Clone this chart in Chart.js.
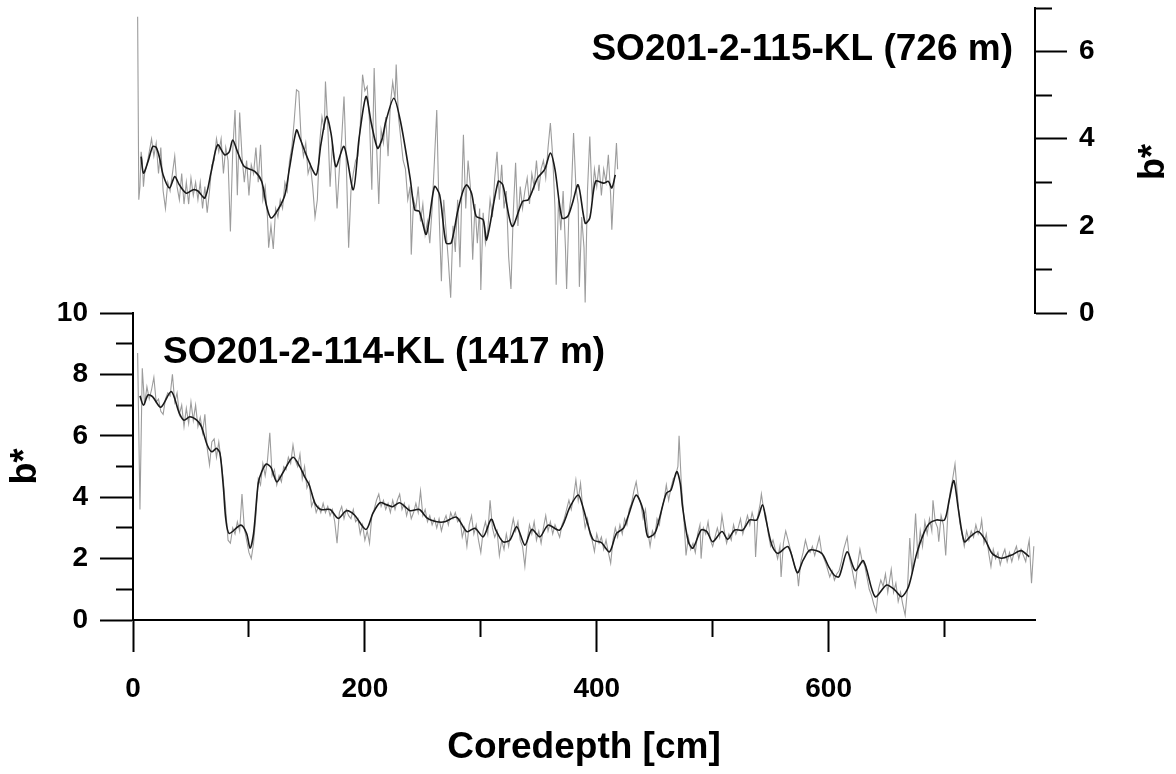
<!DOCTYPE html>
<html>
<head>
<meta charset="utf-8">
<script src="https://cdn.jsdelivr.net/npm/chart.js@4.4.1/dist/chart.umd.min.js"></script>
<style>
html,body{margin:0;padding:0;background:#fff;}
#wrap{position:relative;width:1176px;height:774px;overflow:hidden;background:#fff;}
#wrap canvas{position:absolute;left:0;top:0;}
</style>
</head>
<body>
<div id="wrap">
<canvas id="cBottom" width="1176" height="774"></canvas>
<canvas id="cTop" width="1176" height="774"></canvas>
</div>
<script>
// ---------- text ----------
const panelLabel114 = 'SO201-2-114-KL (1417 m)';
const panelLabel115 = 'SO201-2-115-KL (726 m)';
const xTitle = 'Coredepth [cm]';
const yTitle = 'b*';

// ---------- ticks ----------
const XMAX = 778;
const xTickValues = [0, 100, 200, 300, 400, 500, 600, 700];
const xTickLabels = ['0', '', '200', '', '400', '', '600', ''];
const yTickValues114 = [0, 1, 2, 3, 4, 5, 6, 7, 8, 9, 10];
const yTickLabels114 = ['0', '', '2', '', '4', '', '6', '', '8', '', '10'];
const yTickValues115 = [0, 1, 2, 3, 4, 5, 6, 7];
const yTickLabels115 = ['0', '', '2', '', '4', '', '6', ''];

// ---------- SO201-2-114-KL : smoothed b* ----------
const depthSmooth114 = [
  6, 9, 13, 17, 24, 33, 40, 44, 49, 55,
  59, 64, 68, 72, 75, 78, 80, 83, 93, 98,
  101, 104, 108, 111, 115, 119, 124, 129, 138, 144,
  148, 152, 157, 162, 170, 177, 184, 191, 201, 207,
  213, 219, 224, 230, 239, 247, 254, 262, 269, 279,
  288, 295, 302, 309, 313, 319, 325, 331, 338, 344,
  351, 358, 368, 377, 384, 388, 392, 397, 404, 411,
  417, 423, 427, 434, 440, 444, 450, 454, 460, 464,
  469, 472, 474, 479, 483, 490, 495, 500, 508, 513,
  519, 526, 532, 538, 543, 546, 551, 556, 565, 573,
  578, 584, 594, 600, 605, 609, 616, 623, 630, 640,
  650, 657, 663, 669, 676, 682, 687, 693, 700, 704,
  708, 712, 717, 722, 729, 735, 741, 749, 758, 766,
  773
];
const bSmooth114 = [
  7.30, 7.00, 7.33, 7.27, 6.93, 7.44, 6.73, 6.51, 6.62, 6.51,
  6.30, 5.70, 5.48, 5.59, 5.43, 4.30, 3.30, 2.82, 3.09, 2.82,
  2.34, 2.82, 4.45, 4.83, 5.08, 4.97, 4.50, 4.78, 5.30, 4.99,
  4.67, 4.40, 3.80, 3.60, 3.60, 3.31, 3.56, 3.42, 2.95, 3.48,
  3.82, 3.75, 3.69, 3.82, 3.56, 3.60, 3.31, 3.20, 3.20, 3.35,
  2.88, 2.99, 2.71, 3.28, 2.93, 2.55, 2.60, 3.04, 2.44, 2.95,
  2.71, 3.09, 2.93, 3.69, 4.07, 3.69, 3.15, 2.61, 2.52, 2.22,
  2.82, 2.99, 3.37, 4.07, 3.58, 2.71, 2.82, 3.30, 4.13, 4.23,
  4.83, 4.45, 3.69, 2.55, 2.34, 2.93, 2.88, 2.55, 2.88, 2.63,
  2.93, 2.93, 3.26, 3.26, 3.75, 3.26, 2.44, 2.17, 2.39, 1.54,
  1.95, 2.28, 2.17, 1.74, 1.45, 1.41, 2.22, 1.61, 1.93, 0.76,
  1.14, 0.98, 0.76, 1.09, 2.17, 2.82, 3.15, 3.26, 3.26, 3.91,
  4.54, 3.58, 2.55, 2.71, 2.88, 2.61, 2.17, 2.01, 2.12, 2.26,
  2.06
];

// ---------- SO201-2-114-KL : raw b* ----------
const depthRaw114 = [
  4, 6, 8, 10, 12, 14, 16, 18, 20, 22,
  24, 26, 28, 30, 32, 34, 36, 38, 40, 42,
  44, 46, 48, 50, 52, 54, 56, 58, 60, 62,
  64, 66, 68, 70, 72, 74, 76, 78, 80, 82,
  84, 86, 88, 90, 92, 94, 96, 98, 100, 102,
  104, 106, 108, 110, 112, 114, 116, 118, 120, 122,
  124, 126, 128, 130, 132, 134, 136, 138, 140, 142,
  144, 146, 148, 150, 152, 154, 156, 158, 160, 162,
  164, 166, 168, 170, 172, 174, 176, 178, 180, 182,
  184, 186, 188, 190, 192, 194, 196, 198, 200, 202,
  204, 206, 208, 210, 212, 214, 216, 218, 220, 222,
  224, 226, 228, 230, 232, 234, 236, 238, 240, 242,
  244, 246, 248, 250, 252, 254, 256, 258, 260, 262,
  264, 266, 268, 270, 272, 274, 276, 278, 280, 282,
  284, 286, 288, 290, 292, 294, 296, 298, 300, 302,
  304, 306, 308, 310, 312, 314, 316, 318, 320, 322,
  324, 326, 328, 330, 332, 334, 336, 338, 340, 342,
  344, 346, 348, 350, 352, 354, 356, 358, 360, 362,
  364, 366, 368, 370, 372, 374, 376, 378, 380, 382,
  384, 386, 388, 390, 392, 394, 396, 398, 400, 402,
  404, 406, 408, 410, 412, 414, 416, 418, 420, 422,
  424, 426, 428, 430, 432, 434, 436, 438, 440, 442,
  444, 446, 448, 450, 452, 454, 456, 458, 460, 462,
  464, 466, 468, 470, 471, 473, 475, 477, 479, 481,
  483, 485, 487, 489, 490, 492, 494, 496, 498, 500,
  502, 504, 506, 508, 510, 512, 514, 516, 518, 520,
  522, 524, 526, 528, 530, 532, 534, 536, 537, 539,
  541, 542, 544, 546, 548, 550, 552, 554, 556, 558,
  559, 561, 563, 565, 567, 569, 571, 573, 574, 576,
  578, 580, 582, 584, 586, 588, 590, 592, 594, 596,
  598, 601, 603, 605, 607, 609, 611, 613, 616, 618,
  620, 623, 625, 627, 629, 631, 633, 635, 637, 639,
  641, 643, 645, 647, 649, 651, 654, 656, 658, 660,
  662, 664, 666, 668, 670, 672, 673, 675, 677, 679,
  681, 683, 685, 687, 689, 690, 692, 694, 695, 697,
  699, 701, 703, 705, 707, 709, 711, 713, 715, 717,
  719, 721, 723, 725, 727, 729, 731, 732, 734, 736,
  738, 740, 742, 744, 746, 748, 750, 752, 754, 756,
  758, 760, 762, 764, 766, 768, 770, 772, 773, 775,
  777
];
const bRaw114 = [
  8.7, 3.6, 8.2, 7.0, 7.6, 7.2, 7.5, 7.9, 7.1, 7.2,
  6.8, 6.7, 7.2, 7.4, 7.3, 8.0, 7.1, 7.4, 6.7, 7.0,
  6.3, 6.9, 6.4, 7.1, 6.5, 7.0, 6.3, 6.6, 6.1, 6.7,
  5.6, 5.05, 5.8, 5.9, 5.3, 5.8, 5.2, 4.5, 3.6, 2.6,
  2.5, 3.0, 2.8, 3.2, 2.9, 4.1, 3.0, 2.6, 2.2, 2.0,
  2.5, 3.4, 4.6, 4.4, 5.1, 4.7, 5.2, 6.1, 4.7, 4.9,
  4.4, 4.7, 4.5, 5.0, 4.9, 5.3, 5.1, 5.7, 5.2, 5.0,
  5.4, 4.6, 5.0, 4.3, 4.5, 3.7, 3.9, 3.5, 3.7, 3.5,
  3.8, 3.5, 3.7, 3.4, 3.6, 3.2, 2.5, 3.5, 3.7, 3.3,
  3.6, 3.4, 3.3, 3.6, 3.2, 3.3, 2.8, 3.1, 2.6, 2.9,
  2.5, 3.4, 3.6, 3.9, 4.1, 3.7, 3.9, 3.6, 3.8, 3.5,
  3.9, 3.6, 3.9, 4.1, 3.6, 3.8, 3.4, 3.7, 3.3, 3.5,
  3.8, 3.5, 4.2, 3.4, 3.6, 3.2, 3.4, 3.1, 3.3, 3.0,
  3.3, 2.9, 3.2, 3.4, 3.1, 3.5, 3.3, 3.5, 3.2, 3.3,
  2.7, 3.0, 2.4, 3.1, 3.4, 2.8, 3.1, 2.6, 2.2, 2.9,
  3.2, 2.8, 3.9, 3.0, 2.7, 2.9, 2.1, 2.6, 2.3, 2.8,
  2.4, 2.9, 3.3, 2.9, 3.2, 2.6, 2.4, 1.75, 2.6, 3.1,
  2.8, 3.2, 2.6, 2.9, 2.5, 3.0, 3.4, 2.9, 3.2, 2.8,
  3.1, 2.9, 2.7, 3.1, 3.3, 3.6, 3.9, 3.6, 4.0, 4.56,
  3.9, 4.45, 3.6, 3.0, 3.3, 2.8, 2.6, 2.23, 2.8, 2.5,
  2.7, 2.3, 2.6, 2.2, 1.85, 2.6, 3.0, 2.7, 3.1, 2.8,
  3.3, 3.1, 3.6, 3.8, 4.2, 4.5, 4.0, 3.8, 3.3, 3.6,
  2.9, 2.4, 2.9, 2.7, 3.3, 3.1, 3.6, 3.9, 4.4, 3.9,
  4.3, 4.6, 4.7, 5.0, 6.0, 4.4, 3.4, 2.1, 2.7, 2.3,
  2.5, 2.2, 2.8, 3.1, 2.0, 3.0, 2.8, 3.2, 2.6, 2.4,
  2.7, 3.0, 2.7, 3.4, 2.9, 2.5, 2.8, 2.6, 3.1, 2.8,
  3.0, 3.3, 2.8, 3.1, 3.4, 3.1, 3.5, 3.2, 2.05, 3.4,
  3.8, 4.1, 3.6, 3.4, 2.8, 2.4, 2.6, 2.3, 2.0, 2.4,
  1.4, 2.5, 2.9, 2.6, 2.3, 2.0, 1.7, 1.5, 1.1, 1.9,
  2.2, 2.6, 2.3, 2.2, 2.4, 2.1, 2.4, 2.7, 2.2, 2.0,
  1.8, 1.4, 1.6, 1.3, 1.5, 1.6, 1.9, 2.3, 2.7, 2.0,
  1.7, 1.1, 1.8, 2.3, 1.9, 1.8, 1.4, 1.0, 0.8, 0.5,
  0.27, 1.0, 1.3, 1.1, 1.5, 0.9, 1.65, 0.9, 1.2, 0.6,
  0.9, 0.5, 0.16, 1.0, 2.67, 1.5, 2.1, 3.47, 2.0, 2.9,
  2.4, 3.2, 2.8, 3.3, 2.9, 3.9, 3.2, 3.0, 2.55, 3.4,
  3.1, 2.1, 3.6, 4.2, 4.6, 5.08, 4.1, 3.2, 2.8, 2.4,
  2.9, 2.6, 2.9, 2.7, 3.1, 2.8, 3.0, 3.26, 2.5, 2.8,
  2.2, 1.74, 2.3, 2.0, 2.2, 1.8, 2.1, 2.3, 1.9, 2.2,
  1.9, 2.2, 2.4, 2.0, 2.3, 2.1, 1.9, 2.4, 2.6, 1.2,
  2.4
];

// ---------- SO201-2-115-KL : smoothed b* ----------
const depthSmooth115 = [
  7, 9, 13, 17, 20, 23, 26, 31.5, 36, 40,
  46, 52, 56, 62, 67.5, 73, 79, 83, 86, 90,
  96, 105, 111, 115, 119, 125, 131, 135, 141, 144,
  150, 158, 162, 167, 171, 175, 182, 190, 195, 201,
  205.5, 211, 215, 218, 225, 231, 239, 243, 247, 253,
  260, 264.5, 270, 274.5, 280, 285, 288, 292, 296, 302,
  305, 315, 319, 327, 336, 341, 349, 355, 360, 364,
  370, 375, 379, 384, 390, 394, 399, 406, 410, 413,
  416
];
const bSmooth115 = [
  3.59, 3.21, 3.48, 3.82, 3.80, 3.55, 3.17, 2.87, 3.13, 2.94,
  2.75, 2.83, 2.80, 2.64, 3.25, 3.86, 3.63, 3.70, 3.97, 3.71,
  3.36, 3.25, 3.02, 2.48, 2.18, 2.37, 2.71, 3.33, 4.20, 4.01,
  3.59, 3.17, 3.86, 4.51, 4.09, 3.36, 3.82, 2.83, 4.01, 4.97,
  4.36, 3.78, 4.01, 4.39, 4.93, 4.36, 3.10, 2.37, 2.33, 1.81,
  2.90, 2.71, 1.61, 1.61, 2.33, 2.83, 2.94, 2.75, 2.22, 2.14,
  1.68, 3.02, 2.94, 1.99, 2.56, 2.60, 3.10, 3.29, 3.67, 3.29,
  2.18, 2.22, 2.52, 2.94, 2.06, 2.18, 3.02, 2.98, 3.02, 2.87,
  3.17
];

// ---------- SO201-2-115-KL : raw b* ----------
const depthRaw115 = [
  4, 5, 6, 7, 8, 9, 10, 12, 14, 16,
  18, 20, 22, 24, 26, 28, 30, 32, 34, 36,
  38, 40, 42, 44, 46, 48, 50, 52, 54, 56,
  58, 60, 62, 64, 66, 68, 70, 72, 74, 76,
  78, 80, 82, 84, 86, 88, 90, 92, 94, 96,
  98, 100, 102, 104, 106, 108, 110, 112, 114, 116,
  117, 119, 121, 123, 125, 127, 129, 131, 133, 135,
  137, 139, 141, 143, 145, 147, 149, 151, 153, 155,
  157, 159, 161, 163, 165, 166, 168, 170, 172, 174,
  176, 178, 180, 182, 184, 186, 188, 190, 192, 194,
  196, 198, 200, 202, 204, 206, 208, 210, 212, 214,
  216, 218, 220, 222, 224, 226, 227, 229, 231, 233,
  235, 237, 239, 240, 242, 244, 246, 248, 250, 252,
  254, 256, 258, 260, 262, 264, 266, 268, 270, 272,
  274, 276, 278, 280, 282, 284, 285, 287, 289, 291,
  293, 295, 297, 299, 300, 302, 304, 306, 308, 310,
  312, 314, 316, 318, 320, 322, 324, 326, 328, 330,
  332, 334, 336, 338, 340, 342, 344, 346, 348, 350,
  352, 354, 356, 358, 360, 362, 364, 365, 367, 369,
  371, 373, 374, 376, 378, 380, 382, 384, 385, 387,
  389, 390, 392, 394, 396, 398, 400, 402, 404, 406,
  408, 410, 412, 413, 415, 417, 418
];
const bRaw115 = [
  6.8, 2.6, 2.9, 3.7, 3.5, 2.9, 3.2, 3.4, 3.7, 4.0,
  3.6, 3.9, 3.2, 3.8, 2.8, 2.4, 3.0, 2.8, 3.2, 3.6,
  2.9, 2.6, 3.2, 2.5, 3.0, 2.5, 3.1, 2.7, 3.0, 2.6,
  3.0, 2.4, 2.9, 2.3, 2.8, 3.4, 3.5, 4.0, 3.7, 4.0,
  3.2, 3.8, 3.5, 1.87, 3.7, 4.66, 2.7, 4.6, 3.6, 3.0,
  3.5, 2.7, 3.4, 3.2, 3.8, 3.0, 3.86, 2.6, 2.9, 2.2,
  1.5, 2.0, 1.47, 2.4, 2.2, 2.6, 2.4, 3.0, 2.8, 3.5,
  3.8, 4.4, 5.12, 5.08, 4.0, 3.6, 3.9, 3.2, 3.4, 2.9,
  2.2, 2.6, 3.9, 4.5, 4.2, 5.31, 4.3, 2.9, 3.9, 3.5,
  2.4, 3.3, 4.0, 4.97, 3.4, 1.5, 2.8, 3.2, 3.5, 3.6,
  4.3, 5.47, 5.1, 5.2, 4.4, 2.83, 5.62, 3.9, 2.5, 4.2,
  3.9, 4.5, 3.6, 4.8, 5.3, 4.9, 5.7, 4.5, 4.0, 3.5,
  3.3, 2.6, 2.9, 1.34, 2.6, 2.4, 2.9, 2.1, 2.5, 1.8,
  2.1, 1.6, 2.4, 3.5, 4.66, 2.3, 0.73, 2.6, 1.9, 1.2,
  0.35, 2.0, 1.4, 2.6, 1.05, 3.2, 4.09, 2.4, 3.5, 2.9,
  1.22, 2.5, 1.6, 2.4, 0.53, 2.3, 1.6, 1.9, 2.6, 2.2,
  3.1, 3.7, 2.6, 3.4, 2.4, 2.8, 1.29, 0.55, 2.3, 3.45,
  2.0, 2.9, 2.4, 2.8, 3.1, 2.5, 3.2, 2.9, 3.5, 2.8,
  3.3, 3.5, 3.1, 3.8, 4.36, 3.6, 2.4, 0.65, 2.6, 1.9,
  2.8, 1.5, 0.55, 2.3, 2.7, 4.13, 2.9, 2.5, 0.6, 2.2,
  1.5, 0.24, 2.8, 4.05, 2.6, 3.3, 2.9, 3.4, 2.7, 3.3,
  3.0, 3.63, 2.7, 1.91, 3.0, 3.9, 3.3
];

// ---------- rendering ----------
const FONT = "'Liberation Sans', Arial, Helvetica, sans-serif";
Chart.defaults.font.family = FONT;
Chart.defaults.color = '#000';

function pts(d, v) { return d.map((x, i) => ({ x: x, y: v[i] })); }

const SMOOTH_COLOR = '#1a1a1a';
const RAW_COLOR = '#9c9c9c';

function lineSets(dS, vS, dR, vR) {
  return [
    { label: 'smoothed', data: pts(dS, vS), borderColor: SMOOTH_COLOR, borderWidth: 1.6,
      pointRadius: 0, tension: 0.28, fill: false, order: 0 },
    { label: 'raw', data: pts(dR, vR), borderColor: RAW_COLOR, borderWidth: 1.1,
      pointRadius: 0, tension: 0, fill: false, order: 1 }
  ];
}

const labels114Plugin = {
  id: 'labels114',
  afterDraw(chart) {
    const c = chart.ctx;
    c.save();
    c.fillStyle = '#000';
    c.font = 'bold 37px ' + FONT;
    c.textAlign = 'left';
    c.textBaseline = 'alphabetic';
    c.fillText(panelLabel114, 163, 363);
    c.restore();
  }
};

const labels115Plugin = {
  id: 'labels115',
  afterDraw(chart) {
    const c = chart.ctx;
    c.save();
    c.fillStyle = '#000';
    c.font = 'bold 37px ' + FONT;
    c.textAlign = 'right';
    c.textBaseline = 'alphabetic';
    c.fillText(panelLabel115, 1013, 60);
    c.translate(1154, 162);
    c.rotate(-Math.PI / 2);
    c.font = 'bold 36px ' + FONT;
    c.textAlign = 'center';
    c.textBaseline = 'middle';
    c.fillText(yTitle, 0, 0);
    c.restore();
  }
};

const common = {
  responsive: false,
  maintainAspectRatio: false,
  devicePixelRatio: 1,
  animation: false,
  events: [],
  plugins: { legend: { display: false }, tooltip: { enabled: false }, title: { display: false } }
};

// bottom panel: SO201-2-114-KL
new Chart(document.getElementById('cBottom'), {
  type: 'line',
  data: { datasets: lineSets(depthSmooth114, bSmooth114, depthRaw114, bRaw114) },
  options: Object.assign({}, common, {
    layout: { padding: { left: 0, right: 141, top: 313, bottom: 0 } },
    scales: {
      x: {
        type: 'linear', position: 'bottom', min: 0, max: XMAX,
        afterFit(s) { s.height = 154; },
        afterBuildTicks(s) { s.ticks = xTickValues.map(v => ({ value: v })); },
        ticks: { autoSkip: false, maxRotation: 0, minRotation: 0, padding: 20, color: '#000',
                 font: { size: 28, weight: 'bold' }, callback: (v, i) => xTickLabels[i] },
        grid: { drawOnChartArea: false, drawTicks: true, tickLength: 32, tickWidth: 2, tickColor: '#000',
                tickBorderDash: (c) => (xTickLabels[c.index] === '' ? [16, 200] : []) },
        border: { display: true, color: '#000', width: 2 },
        title: { display: true, text: xTitle, color: '#000', font: { size: 37, weight: 'bold' },
                 padding: { top: 0, bottom: 4 } }
      },
      y: {
        type: 'linear', position: 'left', min: 0, max: 10,
        afterFit(s) { s.width = 133; },
        afterBuildTicks(s) { s.ticks = yTickValues114.map(v => ({ value: v })); },
        ticks: { autoSkip: false, padding: 12, color: '#000',
                 font: { size: 28, weight: 'bold' }, callback: (v, i) => yTickLabels114[i] },
        grid: { drawOnChartArea: false, drawTicks: true, tickLength: 33, tickWidth: 2, tickColor: '#000',
                tickBorderDash: (c) => (yTickLabels114[c.index] === '' ? [0, 16, 17, 200] : []) },
        border: { display: true, color: '#000', width: 2 },
        title: { display: true, text: yTitle, color: '#000', font: { size: 36, weight: 'bold' },
                 padding: { top: 4, bottom: 0 } }
      }
    }
  }),
  plugins: [labels114Plugin]
});

// top panel: SO201-2-115-KL
new Chart(document.getElementById('cTop'), {
  type: 'line',
  data: { datasets: lineSets(depthSmooth115, bSmooth115, depthRaw115, bRaw115) },
  options: Object.assign({}, common, {
    layout: { padding: { left: 133, right: 0, top: 8, bottom: 461 } },
    scales: {
      x: { type: 'linear', min: 0, max: XMAX, display: false },
      y: {
        type: 'linear', position: 'right', min: 0, max: 7,
        afterFit(s) { s.width = 141; },
        afterBuildTicks(s) { s.ticks = yTickValues115.map(v => ({ value: v })); },
        ticks: { autoSkip: false, padding: 0, color: '#000',
                 font: (c) => ({ size: yTickLabels115[c.index] === '' ? 1 : 28, weight: 'bold' }),
                 callback: (v, i) => yTickLabels115[i] },
        grid: { drawOnChartArea: false, drawTicks: true, tickLength: 44, tickWidth: 2, tickColor: '#000',
                tickBorderDash: (c) => (yTickLabels115[c.index] === '' ? [16, 200] : [31, 200]) },
        border: { display: true, color: '#000', width: 2 },
        title: { display: false }
      }
    }
  }),
  plugins: [labels115Plugin]
});
</script>
</body>
</html>
